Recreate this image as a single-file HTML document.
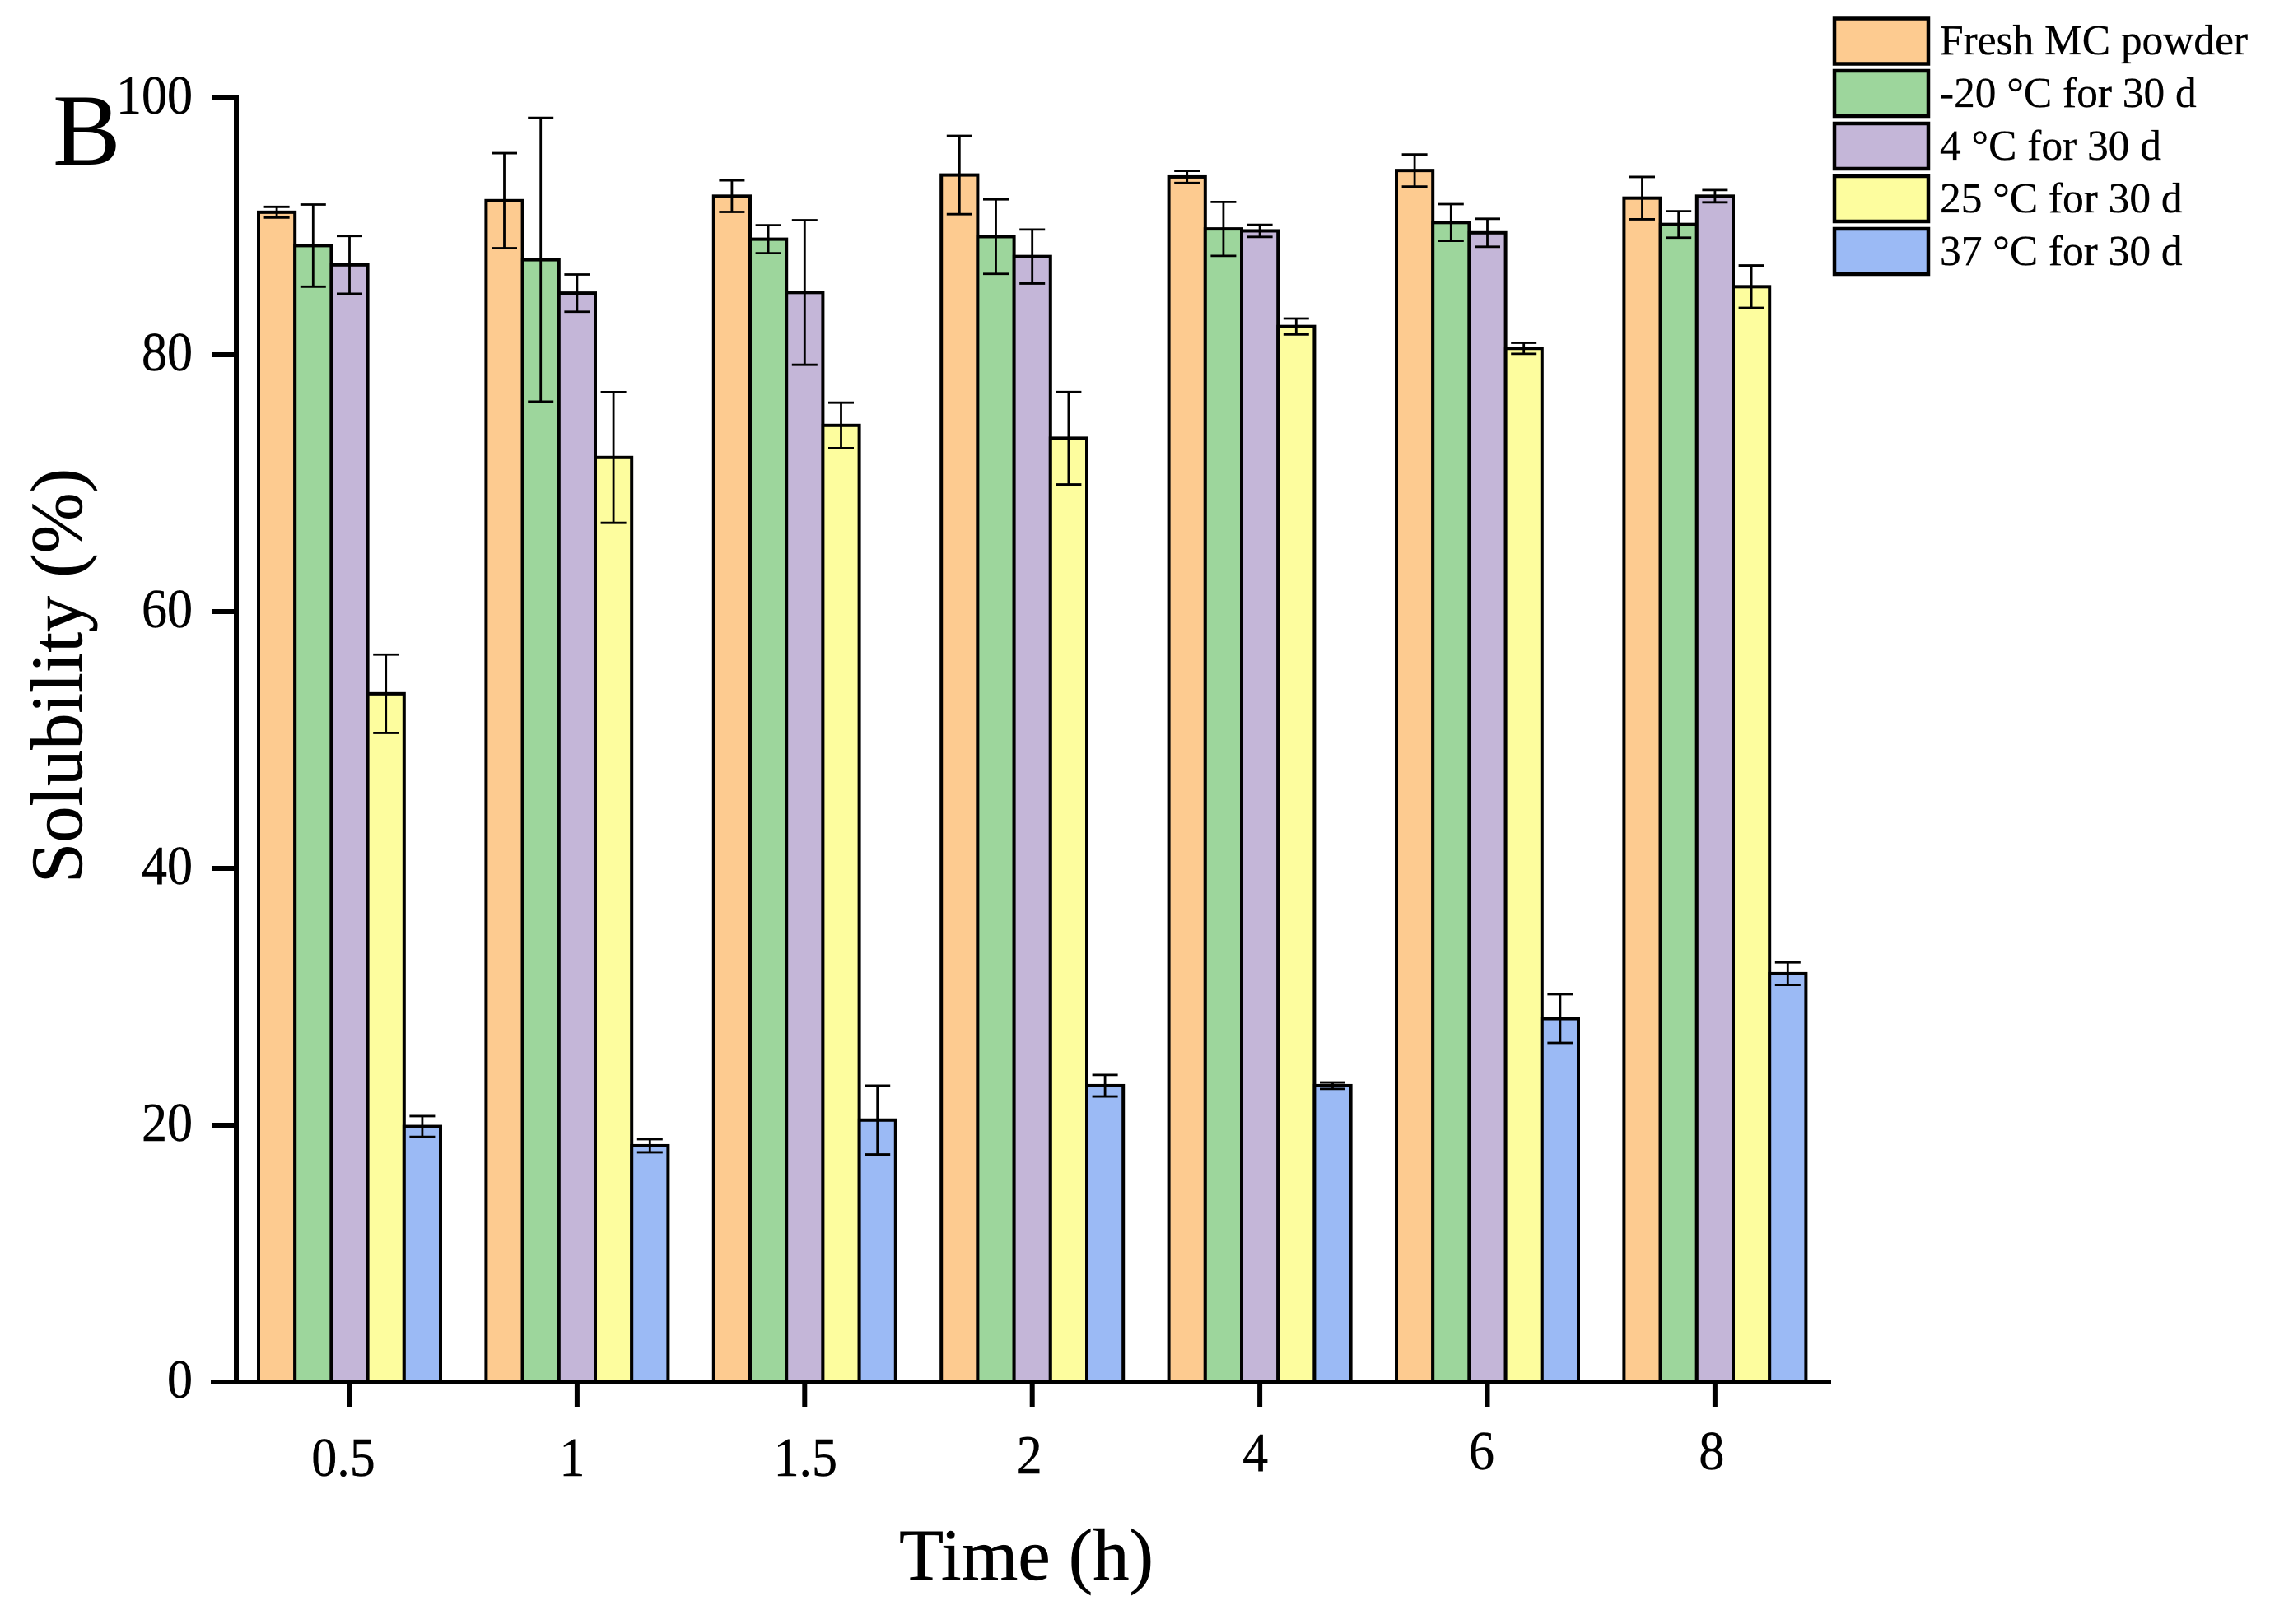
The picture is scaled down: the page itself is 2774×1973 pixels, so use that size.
<!DOCTYPE html>
<html lang="en">
<head>
<meta charset="utf-8">
<title>Solubility over time</title>
<style>
html,body{margin:0;padding:0;background:#fff;width:2774px;height:1973px;overflow:hidden}
svg{display:block;font-family:"Liberation Serif",serif;fill:#000}
</style>
</head>
<body>
<svg id="chart" xmlns="http://www.w3.org/2000/svg" width="2774" height="1973" viewBox="0 0 2774 1973">
  <rect x="0" y="0" width="2774" height="1973" fill="#fff"/>
  <g id="bars"></g>
  <g id="errors"></g>
  <g id="axes"></g>
  <text x="64" y="200" font-size="124">B</text>
  <text x="1092" y="1919" font-size="88.500" stroke="#000" stroke-width="0.500">Time (h)</text>
  <text transform="translate(99 1073) rotate(-90)" font-size="88.500" stroke="#000" stroke-width="0.500">Solubility (%)</text>
  <g id="legend">
    <rect x="2228" y="22.500" width="114" height="55" fill="#FDCB90" stroke="#000" stroke-width="4.500"/>
    <text x="2356" y="66" font-size="51.400" stroke="#000" stroke-width="0.300">Fresh MC powder</text>
    <rect x="2228" y="86" width="114" height="55" fill="#9DD69C" stroke="#000" stroke-width="4.500"/>
    <text x="2356" y="130" font-size="51.400" stroke="#000" stroke-width="0.300">-20 °C for 30 d</text>
    <rect x="2228" y="150" width="114" height="55" fill="#C4B6D8" stroke="#000" stroke-width="4.500"/>
    <text x="2356" y="194" font-size="51.400" stroke="#000" stroke-width="0.300">4 °C for 30 d</text>
    <rect x="2228" y="214" width="114" height="55" fill="#FDFD9E" stroke="#000" stroke-width="4.500"/>
    <text x="2356" y="258" font-size="51.400" stroke="#000" stroke-width="0.300">25 °C for 30 d</text>
    <rect x="2228" y="278" width="114" height="55" fill="#9BBAF5" stroke="#000" stroke-width="4.500"/>
    <text x="2356" y="322" font-size="51.400" stroke="#000" stroke-width="0.300">37 °C for 30 d</text>
  </g>
</svg>
<script>
const categories = ['0.5', '1', '1.5', '2', '4', '6', '8'];
const yTickValues = [0, 20, 40, 60, 80, 100];
const seriesNames = ['fresh', 'minus20', '4c', '25c', '37c'];
const seriesColors = ['#FDCB90', '#9DD69C', '#C4B6D8', '#FDFD9E', '#9BBAF5'];

const freshValues = [91.1, 92.0, 92.35, 94.0, 93.85, 94.35, 92.2];
const minus20Values = [88.5, 87.4, 89.0, 89.2, 89.8, 90.3, 90.15];
const c4Values = [87.0, 84.8, 84.85, 87.65, 89.65, 89.5, 92.35];
const c25Values = [53.6, 72.0, 74.5, 73.5, 82.2, 80.5, 85.3];
const c37Values = [19.9, 18.4, 20.4, 23.08, 23.08, 28.3, 31.8];

const freshErrors = [0.42, 3.7, 1.23, 3.05, 0.47, 1.25, 1.65];
const minus20Errors = [3.2, 11.05, 1.09, 2.9, 2.1, 1.43, 1.03];
const c4Errors = [2.25, 1.45, 5.63, 2.1, 0.47, 1.09, 0.48];
const c25Errors = [3.05, 5.09, 1.77, 3.6, 0.62, 0.43, 1.65];
const c37Errors = [0.81, 0.51, 2.68, 0.84, 0.25, 1.89, 0.88];

const seriesValues = [freshValues, minus20Values, c4Values, c25Values, c37Values];
const seriesErrors = [freshErrors, minus20Errors, c4Errors, c25Errors, c37Errors];

const NS = 'http://www.w3.org/2000/svg';
function make(tag, parent, attrs) {
  const node = document.createElementNS(NS, tag);
  for (const k in attrs) node.setAttribute(k, attrs[k]);
  parent.appendChild(node);
  return node;
}
function yScale(v) { return 1679 - v * 15.6; }
function xScale(i) { return 424.5 + i * 276.4; }
const barWidth = 44.2;

function drawBars() {
  const barsG = document.getElementById('bars');
  const errG = document.getElementById('errors');
  seriesValues.forEach(function (vals, s) {
    vals.forEach(function (v, i) {
      const left = xScale(i) + (s - 2.5) * barWidth;
      const top = yScale(v);
      const r = make('rect', barsG, {
        x: left, y: top, width: barWidth, height: yScale(0) - top,
        fill: seriesColors[s], stroke: '#000', 'stroke-width': 4
      });
      
      

      const cx = left + barWidth / 2;
      const e = seriesErrors[s][i];
      const hi = yScale(v + e);
      const lo = yScale(v - e);
      const d = 'M' + cx + ' ' + hi + 'V' + lo +
        'M' + (cx - 15.5) + ' ' + hi + 'H' + (cx + 15.5) +
        'M' + (cx - 15.5) + ' ' + lo + 'H' + (cx + 15.5);
      const p = make('path', errG, { d: d, fill: 'none', stroke: '#000', 'stroke-width': 2.8 });
      
      
    });
  });
}

function drawAxes() {
  const g = document.getElementById('axes');
  const yAxis = make('line', g, { x1: 287, x2: 287, y1: yScale(100) - 3, y2: yScale(0), stroke: '#000', 'stroke-width': 6 });
  
  
  const xAxis = make('line', g, { x1: 256, x2: 2224, y1: yScale(0), y2: yScale(0), stroke: '#000', 'stroke-width': 6 });
  
  

  yTickValues.forEach(function (t) {
    const y = yScale(t);
    const tick = make('line', g, { x1: 257, x2: 287, y1: y, y2: y, stroke: '#000', 'stroke-width': 6 });
    
    
    const label = make('text', g, { transform: 'translate(234 ' + (y + 19) + ') scale(1 1.07)', 'font-size': 62, 'text-anchor': 'end', stroke: '#000', 'stroke-width': 0.4 });
    label.textContent = String(t);
    
    
  });

  /* the source labels were hand-placed slightly off their ticks */
  const nudgeX = [-7.5, -6, 1, -3.5, -5.5, -7, -4];
  const nudgeY = [114, 114, 114, 111, 108, 106, 106];
  categories.forEach(function (c, i) {
    const x = xScale(i);
    const tick = make('line', g, { x1: x, x2: x, y1: yScale(0), y2: 1709, stroke: '#000', 'stroke-width': 6 });
    
    
    const label = make('text', g, { transform: 'translate(' + (x + nudgeX[i]) + ' ' + (yScale(0) + nudgeY[i]) + ') scale(1 1.07)', 'font-size': 62, 'text-anchor': 'middle', stroke: '#000', 'stroke-width': 0.4 });
    label.textContent = c;
    
    
  });
}

drawBars();
drawAxes();
</script>
</body>
</html>
